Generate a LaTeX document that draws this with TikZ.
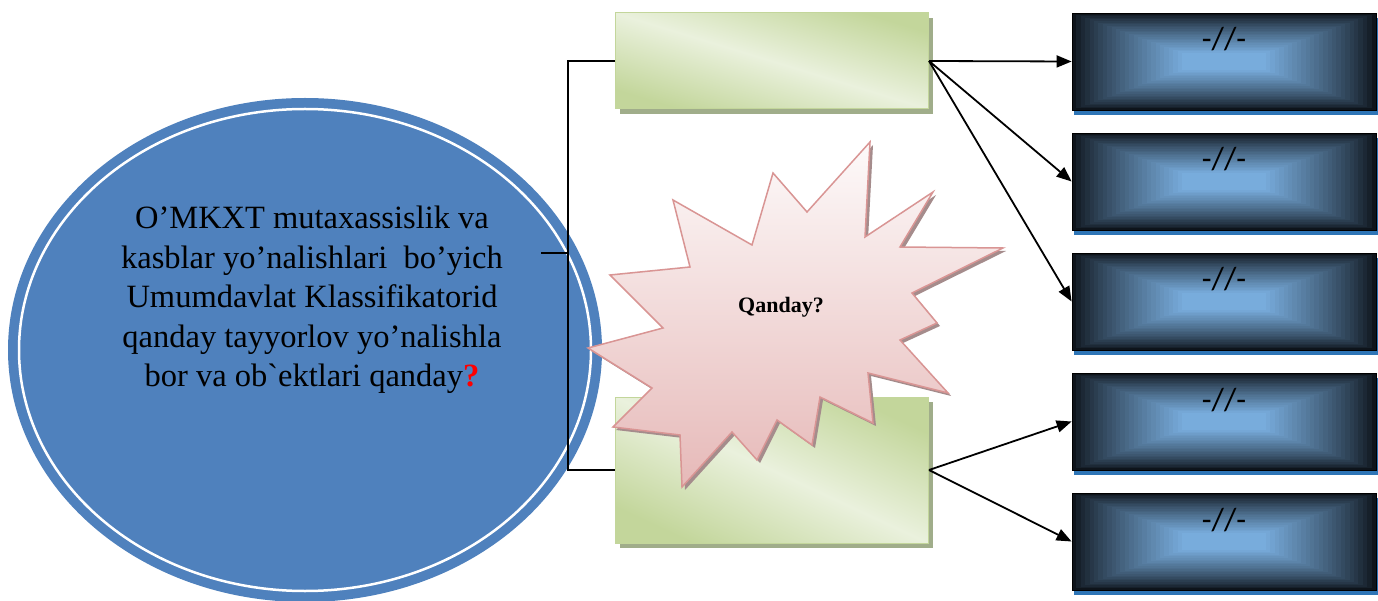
\documentclass[tikz,border=0pt]{standalone}
\usepackage{fontspec}
\setmainfont{Liberation Serif}
\newfontfamily\ovalfont[Ligatures=TeXOff]{Liberation Serif}
\newfontfamily\dashfont{Carlito}
\usepackage{tikz}
\usetikzlibrary{shapes.geometric}
\usetikzlibrary{arrows.meta}
\usetikzlibrary{shadows}

\definecolor{ovalblue}{HTML}{4F81BD}
\definecolor{greenlight}{HTML}{EAF1DD}
\definecolor{greendark}{HTML}{C3D69B}
\definecolor{greenshade}{HTML}{A0AD8A}
\definecolor{burstline}{HTML}{D99594}
\definecolor{bursttop}{HTML}{FDFAFA}
\definecolor{burstbottom}{HTML}{E6B9B8}
\definecolor{burstshade}{HTML}{A58C8C}
\definecolor{boxdark}{HTML}{0E141B}
\definecolor{boxlight}{HTML}{78ACDC}
\definecolor{barblue}{HTML}{2E75B6}

\begin{document}
\begin{tikzpicture}[x=1pt, y=-1pt,
  links/.style={-, line width=1.3pt},
  paths/.style={->, line width=1.8pt, >={Triangle[length=15pt,width=12pt]}},
  stage/.style={rectangle, draw=greendark, line width=1pt, minimum width=313pt,
    inner sep=0pt, left color=greendark, right color=greendark,
    middle color=greenlight,
    drop shadow={shadow xshift=4pt, shadow yshift=-5pt, fill=greenshade, opacity=1}},
  answer/.style={rectangle, draw=black, line width=0.8pt, minimum width=304pt,
    minimum height=97pt, inner sep=0pt, text height=37pt, text depth=60pt,
    font=\dashfont\fontsize{32}{34}\selectfont,
    general shadow={fill=barblue, shadow xshift=2pt, shadow yshift=-5pt},
    path picture={
      \foreach \k in {0,...,25}{
        \pgfmathsetmacro\mixpct{100*(\k/25)^0.8}
        \fill[boxlight!\mixpct!boxdark]
          ([xshift=\k*4.4pt, yshift=-\k*1.6pt]path picture bounding box.north west)
          rectangle ([xshift=-\k*4.4pt, yshift=\k*1.6pt]path picture bounding box.south east);
      }}},
  burst/.style={draw=burstline, line width=1.5pt, top color=bursttop,
    bottom color=burstbottom,
    drop shadow={shadow xshift=3pt, shadow yshift=-3pt, fill=burstshade, opacity=1}}]

 \fill[white] (0,0) rectangle (1378,601);
 \useasboundingbox (0,0) rectangle (1378,601);


 \node[ellipse, fill=ovalblue, minimum width=594pt, minimum height=504pt] (oval) at (305,350) {};
 \draw[white, line width=2.5pt] (oval.center) ellipse [x radius=286pt, y radius=241pt];

 \node[align=center, font=\ovalfont\fontsize{32.5}{39.5}\selectfont] (question) at (312,300)
     {O’MKXT mutaxassislik va\\
      kasblar yo’nalishlari\ \ bo’yich\\
      Umumdavlat Klassifikatorid\\
      qanday tayyorlov yo’nalishla\\
      bor va ob`ektlari qanday{\color{red}\bfseries ?}};

 \coordinate (fork) at (541,253);
 \coordinate (trunk) at (568,253);



 \node[stage, minimum height=96pt, shading angle=-17] (branch_1) at (772,61) {};

 \node[stage, minimum height=146pt, shading angle=-25] (branch_2) at (772,470) {};


 \node[answer] (item_1) at (1224,61.5) {-//-};

 \node[answer] (item_2) at (1224,181.5) {-//-};

 \node[answer] (item_3) at (1224,301.5) {-//-};

 \node[answer] (item_4) at (1224,421.5) {-//-};

 \node[answer] (item_5) at (1224,541.5) {-//-};



 \draw [links] (fork) -- (trunk);
 \draw [links] (branch_1.west) -| (trunk) |- (branch_2.west);

 \draw [paths] (branch_1.east) -- (item_1.west);
 \draw [paths] (branch_1.east) -- (item_2.west);
 \draw [paths] (branch_1.east) -- (item_3.west);
 \draw [paths] (branch_2.east) -- (item_4.west);
 \draw [paths] (branch_2.east) -- (item_5.west);


 \draw [burst] (870,142) -- (865,237) -- (933,192) -- (900,247) -- (1003,248)
   -- (912,293) -- (937,323) -- (900,340) -- (948,393) -- (868,373)
   -- (873,423) -- (820,397) -- (812,445) -- (777,420) -- (757,460)
   -- (732,432) -- (682,487) -- (680,435) -- (613,427) -- (652,388)
   -- (588,348) -- (663,328) -- (610,275) -- (690,267) -- (673,200)
   -- (752,245) -- (773,173) -- (807,212) -- cycle;

 \node[font=\bfseries\fontsize{22}{26}\selectfont] (burst_text) at (781,307) {Qanday?};

 \end{tikzpicture}
\end{document}
